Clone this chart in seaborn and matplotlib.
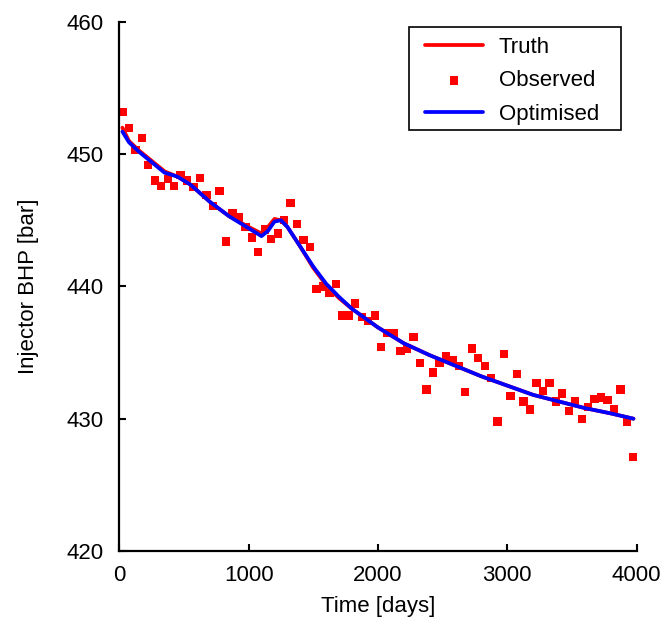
import matplotlib
matplotlib.use("Agg")
import matplotlib.pyplot as plt
import numpy as np
import pandas as pd
import seaborn as sns
from matplotlib.patches import Rectangle

# observed samples (days, bar)
obs_time = [25, 75, 125, 175, 225, 275, 325, 375, 425, 475,
            525, 575, 625, 675, 725, 775, 825, 875, 925, 975,
            1025, 1075, 1125, 1175, 1225, 1275, 1325, 1375, 1425, 1475,
            1525, 1575, 1625, 1675, 1725, 1775, 1825, 1875, 1925, 1975,
            2025, 2075, 2125, 2175, 2225, 2275, 2325, 2375, 2425, 2475,
            2525, 2575, 2625, 2675, 2725, 2775, 2825, 2875, 2925, 2975,
            3025, 3075, 3125, 3175, 3225, 3275, 3325, 3375, 3425, 3475,
            3525, 3575, 3625, 3675, 3725, 3775, 3825, 3875, 3925, 3975]
obs_bhp = [453.2, 452.0, 450.3, 451.2, 449.2, 448.0, 447.6, 448.1, 447.6, 448.4,
           448.0, 447.5, 448.2, 446.9, 446.1, 447.2, 443.4, 445.5, 445.2, 444.5,
           443.7, 442.6, 444.3, 443.6, 444.0, 445.0, 446.3, 444.7, 443.5, 443.0,
           439.8, 440.0, 439.5, 440.2, 437.8, 437.8, 438.7, 437.7, 437.4, 437.8,
           435.4, 436.5, 436.5, 435.1, 435.3, 436.2, 434.2, 432.2, 433.5, 434.2,
           434.7, 434.4, 434.0, 432.0, 435.3, 434.6, 434.0, 433.1, 429.8, 434.9,
           431.7, 433.4, 431.3, 430.7, 432.7, 432.1, 432.7, 431.3, 431.9, 430.6,
           431.3, 430.0, 430.9, 431.5, 431.6, 431.4, 430.7, 432.2, 429.8, 427.1]

# truth and optimised responses
line_time = [25, 75, 150, 250, 350, 450, 550, 700, 850, 1000,
             1100, 1150, 1200, 1250, 1300, 1400, 1500, 1600, 1700, 1800,
             2000, 2200, 2400, 2600, 2800, 3000, 3200, 3400, 3600, 3800, 3975]
truth_bhp = [452.0, 451.0, 450.3, 449.5, 448.7, 448.3, 447.7, 446.4, 445.3, 444.5,
             444.0, 444.5, 445.1, 445.0, 444.5, 443.0, 441.4, 440.1, 439.1, 438.3,
             436.9, 435.7, 434.8, 434.0, 433.2, 432.5, 431.8, 431.3, 430.8, 430.4, 430.0]
optim_bhp = [451.7, 450.9, 450.2, 449.4, 448.6, 448.3, 447.7, 446.4, 445.3, 444.4,
             443.8, 444.2, 444.9, 445.0, 444.5, 443.0, 441.5, 440.2, 439.2, 438.3,
             436.9, 435.7, 434.8, 434.0, 433.2, 432.5, 431.8, 431.3, 430.8, 430.4, 430.0]

sns.set_style("ticks")
plt.rcParams["font.family"] = ["Liberation Sans", "DejaVu Sans"]
plt.rcParams["text.color"] = "black"
plt.rcParams["axes.labelcolor"] = "black"
plt.rcParams["axes.edgecolor"] = "black"
plt.rcParams["xtick.color"] = "black"
plt.rcParams["ytick.color"] = "black"

lines = pd.DataFrame({"t": line_time, "truth": truth_bhp, "opt": optim_bhp})
obs = pd.DataFrame({"t": obs_time, "bhp": obs_bhp})

W, H = 666, 624
fig = plt.figure(figsize=(W / 100, H / 100), dpi=100)
ax = fig.add_axes([0.179, 0.117, 0.777, 0.848])

sns.lineplot(data=lines, x="t", y="truth", color="#ff0000", lw=2.7, ax=ax, label="Truth")
sns.scatterplot(data=obs, x="t", y="bhp", color="#ff0000", marker="s", s=36,
                edgecolor="none", ax=ax, label="Observed", zorder=1)
sns.lineplot(data=lines, x="t", y="opt", color="#0000ff", lw=2.7, ax=ax, label="Optimised")

ax.set_xlim(0, 4000)
ax.set_ylim(420, 460)
ax.set_xticks([0, 1000, 2000, 3000, 4000])
ax.set_yticks([420, 430, 440, 450, 460])
ax.set_xlabel("Time [days]", fontsize=16, labelpad=7)
ax.set_ylabel("Injector BHP [bar]", fontsize=16, labelpad=20)
ax.tick_params(direction="in", length=5, width=1.5, labelsize=16)
ax.tick_params(axis="x", pad=10)
ax.tick_params(axis="y", pad=11)
sns.despine(ax=ax)
for s in ["left", "bottom"]:
    ax.spines[s].set_linewidth(1.6)

# legend without its own frame, boxed separately to match the padding
ax.legend(loc="upper left", bbox_to_anchor=(425 / W, 1 - 37 / H),
          bbox_transform=fig.transFigure, borderaxespad=0, borderpad=0,
          fontsize=16, frameon=False, handlelength=2.6, handletextpad=0.72,
          labelspacing=0.56)
fig.patches.append(Rectangle((409 / W, 1 - 130 / H), 212 / W, 103 / H,
                             transform=fig.transFigure, fill=False,
                             edgecolor="black", lw=1.2))

fig.savefig("out.png", dpi=100)
